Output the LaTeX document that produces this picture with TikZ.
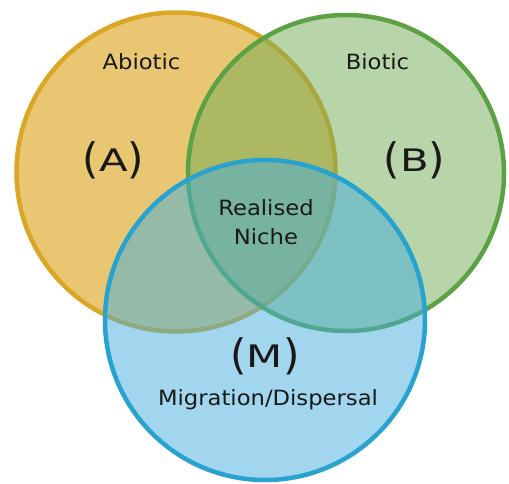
\documentclass[tikz,border=0pt]{standalone}
\usepackage{fontspec}
\setmainfont{DejaVu Sans}
\usepackage{graphicx}
\definecolor{afill}{RGB}{233,198,114}
\definecolor{astroke}{RGB}{218,166,38}
\definecolor{bfill}{RGB}{115,171,85}
\definecolor{bstroke}{RGB}{92,161,68}
\definecolor{mfill}{RGB}{69,175,223}
\definecolor{mstroke}{RGB}{40,162,207}
\definecolor{ink}{RGB}{25,25,25}
\newcommand{\smalltxt}[1]{\scalebox{1.08}[1]{\fontsize{21}{25}\selectfont #1}}
\newcommand{\bigparen}[1]{{\fontsize{42}{42}\selectfont\raisebox{-2pt}{#1}}}
\newcommand{\biglab}[1]{\bigparen{(}\scalebox{1.35}[1]{\fontsize{31}{31}\selectfont #1}\bigparen{)}}
\tikzset{
  setcircle/.style={circle, inner sep=0pt, outer sep=0pt, line width=4.5pt},
  lbl/.style={anchor=base, inner sep=0pt, text=ink}
}
\begin{document}
\begin{tikzpicture}[x=1pt, y=-1pt]
  \fill[white] (0,0) rectangle (509,484);
  \useasboundingbox (0,0) rectangle (509,484);
  \node[setcircle, fill=afill, draw=astroke, minimum size=319pt] (A) at (176,172) {};
  \node[setcircle, fill=bfill, fill opacity=0.5, draw=bstroke, draw opacity=1, minimum size=316pt] (B) at (346,173) {};
  \node[setcircle, fill=mfill, fill opacity=0.5, draw=mstroke, draw opacity=1, minimum size=320pt] (M) at (265,320) {};
  \node[lbl] (abiotic) at (141.5,70) {\smalltxt{Abiotic}};
  \node[lbl] (biotic) at (377.5,70) {\smalltxt{Biotic}};
  \node[lbl] (alab) at (113.5,171.7) {\biglab{A}};
  \node[lbl] (blab) at (414.5,171.7) {\biglab{B}};
  \node[lbl] (realised) at (266,215) {\smalltxt{Realised}};
  \node[lbl] (niche) at (266,244.5) {\smalltxt{Niche}};
  \node[lbl] (mlab) at (265,367) {\biglab{M}};
  \node[lbl] (migr) at (268,405) {\smalltxt{Migration/Dispersal}};
\end{tikzpicture}
\end{document}
